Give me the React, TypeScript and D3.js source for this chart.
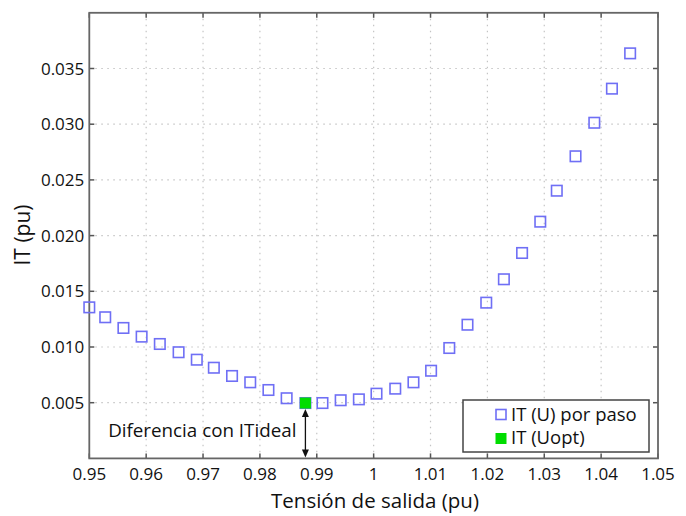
import React, { useRef, useEffect } from "react";
import * as d3 from "d3";

// tension de salida (pu) por paso
const tension = [
  0.95, 0.9528, 0.956, 0.9592, 0.9624, 0.9657, 0.9689, 0.9719, 0.9751, 0.9783,
  0.9815, 0.9847, 0.988, 0.991, 0.9942, 0.9974, 1.0005, 1.0038, 1.007, 1.0101,
  1.0133, 1.0165, 1.0198, 1.0229, 1.0261, 1.0293, 1.0322, 1.0355, 1.0388,
  1.0419, 1.0451,
];
// IT (pu)
const itPaso = [
  0.01356, 0.01267, 0.01171, 0.01093, 0.01027, 0.00953, 0.00886, 0.00814,
  0.0074, 0.00683, 0.00614, 0.0054, 0.00497, 0.00497, 0.00522, 0.0053,
  0.00581, 0.00626, 0.00683, 0.00787, 0.00991, 0.012, 0.01398, 0.01608,
  0.01844, 0.02125, 0.02403, 0.02712, 0.03013, 0.03319, 0.03636,
];
const uOpt = 0.988;
const itOpt = 0.00497;

const xTicks = [0.95, 0.96, 0.97, 0.98, 0.99, 1, 1.01, 1.02, 1.03, 1.04, 1.05];
const xTickLabels = ["0.95", "0.96", "0.97", "0.98", "0.99", "1", "1.01", "1.02", "1.03", "1.04", "1.05"];
const yTicks = [0.005, 0.01, 0.015, 0.02, 0.025, 0.03, 0.035];
const yTickLabels = ["0.005", "0.010", "0.015", "0.020", "0.025", "0.030", "0.035"];
const legendLabels = ["IT (U) por paso", "IT (Uopt)"];

const W = 686;
const H = 516;
const FONT = "'Open Sans', Lato, sans-serif";

export default function App() {
  const ref = useRef<SVGSVGElement>(null);

  useEffect(() => {
    const svg = d3.select(ref.current);
    svg.selectAll("*").remove();

    const left = 89.3, right = 658, top = 12.8, bottom = 458.4;
    const x = d3.scaleLinear().domain([0.95, 1.05]).range([left, right]);
    const y = d3.scaleLinear().domain([0, 0.04]).range([bottom, top]);

    svg.append("rect").attr("width", W).attr("height", H).attr("fill", "#fff");

    // grid
    const grid = svg.append("g").attr("stroke", "#c4c4c4").attr("stroke-width", 1.2)
      .attr("stroke-dasharray", "1.5,4.5");
    xTicks.slice(1, -1).forEach(t => {
      grid.append("line").attr("x1", x(t)).attr("x2", x(t)).attr("y1", top).attr("y2", bottom);
    });
    yTicks.forEach(t => {
      grid.append("line").attr("x1", left).attr("x2", right).attr("y1", y(t)).attr("y2", y(t));
    });

    // tick marks inward
    const tk = svg.append("g").attr("stroke", "#555").attr("stroke-width", 1.5);
    xTicks.forEach(t => {
      tk.append("line").attr("x1", x(t)).attr("x2", x(t)).attr("y1", bottom).attr("y2", bottom - 5);
      tk.append("line").attr("x1", x(t)).attr("x2", x(t)).attr("y1", top).attr("y2", top + 5);
    });
    yTicks.forEach(t => {
      tk.append("line").attr("x1", left).attr("x2", left + 5).attr("y1", y(t)).attr("y2", y(t));
      tk.append("line").attr("x1", right).attr("x2", right - 5).attr("y1", y(t)).attr("y2", y(t));
    });

    // frame
    svg.append("rect").attr("x", left).attr("y", top).attr("width", right - left)
      .attr("height", bottom - top).attr("fill", "none").attr("stroke", "#666").attr("stroke-width", 1.8);

    // tick labels
    svg.append("g").selectAll("text").data(xTicks).join("text")
      .attr("x", d => x(d)).attr("y", bottom + 22).attr("text-anchor", "middle")
      .attr("font-family", FONT).attr("font-size", 17).attr("fill", "#111")
      .text((d, i) => xTickLabels[i]);
    svg.append("g").selectAll("text").data(yTicks).join("text")
      .attr("x", left - 5).attr("y", d => y(d) + 6).attr("text-anchor", "end")
      .attr("font-family", FONT).attr("font-size", 17).attr("fill", "#111")
      .text((d, i) => yTickLabels[i]);

    // axis titles
    svg.append("text").attr("x", 375).attr("y", 508).attr("text-anchor", "middle")
      .attr("font-family", FONT).attr("font-size", 20.5).attr("fill", "#111").text("Tensión de salida (pu)");
    svg.append("text").attr("transform", `translate(30,235) rotate(-90)`).attr("text-anchor", "middle")
      .attr("font-family", FONT).attr("font-size", 21).attr("fill", "#111").text("IT (pu)");

    // series
    const s = 10.5;
    svg.append("g").selectAll("rect").data(tension).join("rect")
      .attr("x", d => x(d) - s / 2).attr("y", (d, i) => y(itPaso[i]) - s / 2)
      .attr("width", s).attr("height", s).attr("fill", "none")
      .attr("stroke", "#6f6ff5").attr("stroke-width", 1.6);

    svg.append("rect").attr("x", x(uOpt) - 5.5).attr("y", y(itOpt) - 5.5)
      .attr("width", 11).attr("height", 11).attr("fill", "#00dd00");

    // arrow
    const ax = x(uOpt);
    const a1 = y(itOpt) + 6, a2 = bottom - 1;
    svg.append("line").attr("x1", ax).attr("x2", ax).attr("y1", a1 + 6).attr("y2", a2 - 6)
      .attr("stroke", "#111").attr("stroke-width", 1.3);
    svg.append("path").attr("d", `M${ax},${a1} L${ax - 3.5},${a1 + 8} L${ax + 3.5},${a1 + 8} Z`).attr("fill", "#111");
    svg.append("path").attr("d", `M${ax},${a2} L${ax - 3.5},${a2 - 8} L${ax + 3.5},${a2 - 8} Z`).attr("fill", "#111");
    svg.append("text").attr("x", ax - 9).attr("y", 437).attr("text-anchor", "end")
      .attr("font-family", FONT).attr("font-size", 18.8).attr("fill", "#111").text("Diferencia con ITideal");

    // legend
    const lg = svg.append("g");
    lg.append("rect").attr("x", 463).attr("y", 400).attr("width", 186).attr("height", 52)
      .attr("fill", "#fff").attr("stroke", "#444").attr("stroke-width", 1.5);
    lg.append("rect").attr("x", 496).attr("y", 409.5).attr("width", 10).attr("height", 10)
      .attr("fill", "none").attr("stroke", "#6f6ff5").attr("stroke-width", 1.6);
    lg.append("rect").attr("x", 495.5).attr("y", 433).attr("width", 11).attr("height", 11)
      .attr("fill", "#00dd00");
    lg.selectAll("text").data(legendLabels).join("text")
      .attr("x", 511).attr("y", (d, i) => 420.5 + i * 23).attr("font-family", FONT)
      .attr("font-size", 18.5).attr("fill", "#111").text(d => d);
  }, []);

  return (
    <svg ref={ref} width={W} height={H} style={{ position: "absolute", left: 0, top: 0 }} />
  );
}
